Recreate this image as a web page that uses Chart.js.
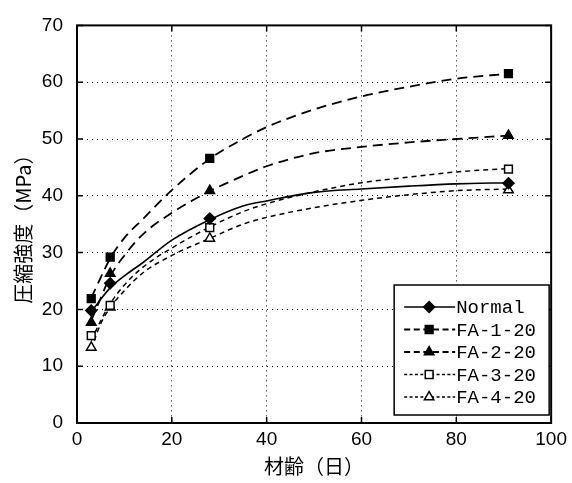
<!DOCTYPE html>
<html lang="ja">
<head>
<meta charset="UTF-8">
<title>圧縮強度</title>
<script src="https://cdn.jsdelivr.net/npm/chart.js@4"></script>
<style>
  html, body { margin: 0; padding: 0; background: #fff; }
</style>
</head>
<body>
<canvas id="canvas" width="572" height="483"></canvas>
<script>
    // test ages (days) and measured strengths (MPa)
    const ages = [3, 7, 28, 91];
    const normal = [19.8, 24.6, 36.0, 42.2];
    const fa1 = [21.9, 29.2, 46.6, 61.5];
    const fa2 = [17.7, 26.3, 40.9, 50.6];
    const fa3 = [15.4, 20.7, 34.4, 44.7];
    const fa4 = [13.3, 20.4, 32.5, 41.0];

    // fitted curves at these ages
    const curveAges = [3, 5, 7, 10, 14, 20, 28, 35, 40, 50, 60, 70, 80, 91];
    const normalCurve = [19.5, 21.8, 23.8, 25.9, 28.3, 32.2, 35.8, 38.2, 39.1, 40.6, 41.2, 41.7, 42.1, 42.3];
    const fa1Curve = [22.0, 25.6, 29.0, 32.6, 36.0, 41.0, 46.5, 50.0, 52.1, 55.2, 57.5, 59.2, 60.6, 61.5];
    const fa2Curve = [18.0, 22.0, 25.8, 29.5, 33.3, 37.0, 40.8, 43.5, 45.2, 47.5, 48.6, 49.4, 50.0, 50.6];
    const fa3Curve = [14.5, 18.0, 21.0, 24.3, 27.5, 30.8, 34.5, 37.2, 38.6, 40.7, 42.3, 43.3, 44.2, 44.8];
    const fa4Curve = [13.0, 17.5, 20.3, 23.3, 26.5, 29.5, 32.5, 35.0, 36.2, 37.9, 39.2, 40.2, 40.9, 41.2];

    const xTicks = [0, 20, 40, 60, 80, 100];
    const yTicks = [0, 10, 20, 30, 40, 50, 60, 70];

    const seriesNames = ['Normal', 'FA-1-20', 'FA-2-20', 'FA-3-20', 'FA-4-20'];

    const tickFont = "'Liberation Sans', sans-serif";
    const cjkFont = "'Noto Sans CJK JP', sans-serif";

    const styles = [
        {point: 'rectRot', fill: '#000', dash: [], width: 1.6},
        {point: 'rect', fill: '#000', dash: [10, 6], width: 1.8},
        {point: 'triangle', fill: '#000', dash: [10, 6], width: 1.8},
        {point: 'rect', fill: '#fff', dash: [5, 4], width: 1.5},
        {point: 'triangle', fill: '#fff', dash: [5, 4], width: 1.5}
    ];

    const pts = (xs, ys) => xs.map((x, i) => ({x: x, y: ys[i]}));

    const markerSets = [normal, fa1, fa2, fa3, fa4];
    const curveSets = [normalCurve, fa1Curve, fa2Curve, fa3Curve, fa4Curve];

    const datasets = [];
    markerSets.forEach((vals, i) => {
        datasets.push({
            label: seriesNames[i],
            data: pts(ages, vals),
            showLine: false,
            pointStyle: styles[i].point,
            pointRadius: 5.5,
            pointBackgroundColor: styles[i].fill,
            pointBorderColor: '#000',
            pointBorderWidth: 1.5
        });
    });
    curveSets.forEach((vals, i) => {
        datasets.push({
            label: seriesNames[i] + ' fit',
            data: pts(curveAges, vals),
            showLine: true,
            pointRadius: 0,
            borderColor: '#000',
            borderWidth: styles[i].width,
            borderDash: styles[i].dash,
            cubicInterpolationMode: 'monotone',
            fill: false
        });
    });

    // frame, inner ticks and legend box
    const decorations = {
        id: 'decorations',
        afterDatasetsDraw(chart) {
            const ctx = chart.ctx;
            const a = chart.chartArea;
            const xs = chart.scales.x, ys = chart.scales.y;
            ctx.save();
            ctx.strokeStyle = '#000';
            ctx.lineWidth = 1.5;
            ctx.setLineDash([]);
            ctx.beginPath();
            xTicks.forEach(v => {
                const px = xs.getPixelForValue(v);
                ctx.moveTo(px, a.bottom); ctx.lineTo(px, a.bottom - 6);
                ctx.moveTo(px, a.top); ctx.lineTo(px, a.top + 6);
            });
            yTicks.forEach(v => {
                const py = ys.getPixelForValue(v);
                ctx.moveTo(a.left, py); ctx.lineTo(a.left + 6, py);
                ctx.moveTo(a.right, py); ctx.lineTo(a.right - 6, py);
            });
            ctx.stroke();
            ctx.lineWidth = 2;
            ctx.strokeRect(a.left, a.top, a.right - a.left, a.bottom - a.top);

            // legend
            const bx = a.right - 157, by = a.bottom - 138, bw = 155, bh = 130;
            ctx.fillStyle = '#fff';
            ctx.fillRect(bx, by, bw, bh);
            ctx.lineWidth = 1.5;
            ctx.strokeRect(bx, by, bw, bh);
            ctx.font = "19px 'Liberation Mono', 'DejaVu Sans Mono', monospace";
            ctx.textBaseline = 'middle';
            seriesNames.forEach((name, i) => {
                const y = by + 22 + i * 22.5;
                const st = styles[i];
                ctx.setLineDash(st.dash.length ? st.dash.map(d => d * 0.6) : []);
                ctx.lineWidth = st.width;
                ctx.beginPath();
                ctx.moveTo(bx + 10, y);
                ctx.lineTo(bx + 61, y);
                ctx.stroke();
                ctx.setLineDash([]);
                ctx.fillStyle = st.fill;
                ctx.lineWidth = 1.5;
                Chart.helpers.drawPoint(ctx, {pointStyle: st.point, radius: 5.5, borderWidth: 1.5, rotation: 0}, bx + 35, y);
                ctx.fillStyle = '#000';
                ctx.fillText(name, bx + 62, y + 1);
            });
            ctx.restore();
        }
    };

    const chart = new Chart('canvas', {
        type: 'scatter',
        data: {datasets: datasets},
        plugins: [decorations],
        options: {
            responsive: false,
            animation: false,
            layout: {padding: {top: 24, right: 18, left: 0, bottom: 0}},
            plugins: {legend: {display: false}, tooltip: {enabled: false}},
            scales: {
                x: {
                    type: 'linear', min: 0, max: 100,
                    afterFit: s => { s.height = 60; },
                    afterBuildTicks: s => { s.ticks = xTicks.map(v => ({value: v})); },
                    ticks: {color: '#000', padding: 5, font: {family: tickFont, size: 19}},
                    grid: {color: '#000', lineWidth: 1, drawTicks: false},
                    border: {display: false, dash: [1, 4]},
                    title: {display: true, text: '材齢（日）', color: '#000',
                        font: {family: cjkFont, size: 20}, padding: {top: 0, bottom: 5}}
                },
                y: {
                    type: 'linear', min: 0, max: 70,
                    afterFit: s => { s.width = 77; },
                    afterBuildTicks: s => { s.ticks = yTicks.map(v => ({value: v})); },
                    ticks: {color: '#000', padding: 14, font: {family: tickFont, size: 19}},
                    grid: {color: '#000', lineWidth: 1, drawTicks: false},
                    border: {display: false, dash: [1, 4]},
                    title: {display: true, text: '圧縮強度（MPa）', color: '#000',
                        font: {family: cjkFont, size: 20}, padding: {top: 11, bottom: 0}}
                }
            }
        }
    });
</script>
</body>
</html>
